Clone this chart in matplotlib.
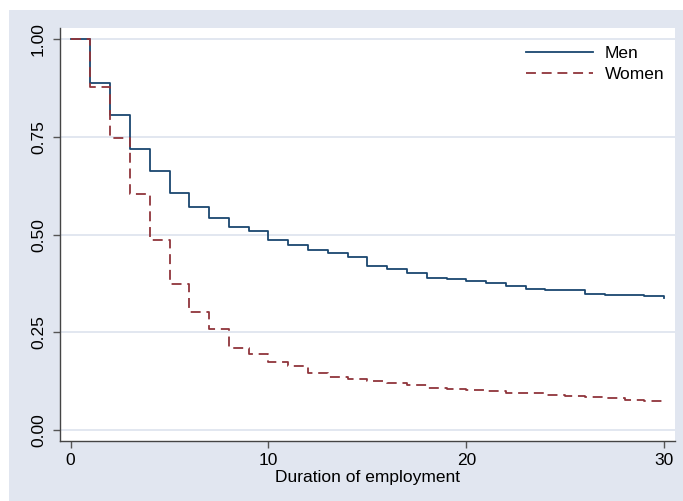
import numpy as np
import matplotlib
matplotlib.use("Agg")
import matplotlib.pyplot as plt
from matplotlib.patches import Rectangle

plt.rcParams['font.family'] = ['Liberation Sans', 'DejaVu Sans']

# survival estimates by year of employment (step changes at whole years)
years = np.arange(0, 31)
men = [1.00, 0.889, 0.807, 0.720, 0.662, 0.606, 0.571, 0.542, 0.520, 0.509,
       0.487, 0.474, 0.462, 0.453, 0.443, 0.421, 0.411, 0.401, 0.390, 0.386,
       0.381, 0.377, 0.369, 0.362, 0.359, 0.359, 0.349, 0.345, 0.345, 0.342,
       0.339]
women = [1.00, 0.877, 0.747, 0.604, 0.487, 0.375, 0.303, 0.258, 0.211, 0.196,
         0.174, 0.164, 0.146, 0.136, 0.130, 0.125, 0.121, 0.115, 0.109, 0.105,
         0.102, 0.099, 0.096, 0.094, 0.089, 0.088, 0.086, 0.082, 0.077, 0.074,
         0.070]
yticks = [0, 0.25, 0.5, 0.75, 1.0]
xticks = [0, 10, 20, 30]

W, H = 683, 501
fig = plt.figure(figsize=(W / 100, H / 100), dpi=100, facecolor='white')
# bluish graph region with a thin white border at top/left
fig.patches.append(Rectangle((9 / W, 0), 1 - 9 / W, 1 - 10 / H,
                             transform=fig.transFigure, facecolor='#e1e6f0',
                             edgecolor='none', zorder=-10))

ax = fig.add_axes([60 / W, (H - 440.7) / H, (675 - 60) / W, (440.7 - 28.3) / H])
ax.set_zorder(1)
ax.set_facecolor('white')

ax.step(years, men, where='post', color='#1a476f', lw=1.3, label='Men', zorder=3)
ax.step(years, women, where='post', color='#90353b', lw=1.3, label='Women',
        dashes=(5.5, 3.2), zorder=3)

ax.set_xlim(-0.54, 30.55)
ax.set_ylim(-0.027, 1.028)
ax.set_yticks(yticks)
ax.set_yticklabels([f"{v:.2f}" for v in yticks], rotation=90, va='center')
ax.set_xticks(xticks)
ax.grid(axis='y', color='#dde3ee', lw=1.2, zorder=1)
ax.set_axisbelow(True)

for s in ['top', 'right']:
    ax.spines[s].set_visible(False)
for s in ['left', 'bottom']:
    ax.spines[s].set_color('#444444')
    ax.spines[s].set_linewidth(1.0)
ax.tick_params(axis='both', length=5, width=1, color='#555555', labelsize=12.5)
ax.tick_params(axis='y', pad=5)
ax.tick_params(axis='x', pad=4)

ax.set_xlabel('Duration of employment', fontsize=12.5, labelpad=1)

ax.legend(loc='upper right', bbox_to_anchor=(1.008, 0.995), frameon=False,
          fontsize=12.5, handlelength=3.9, handletextpad=0.65, labelspacing=0.35)

fig.savefig('out.png', dpi=100, facecolor='white')
